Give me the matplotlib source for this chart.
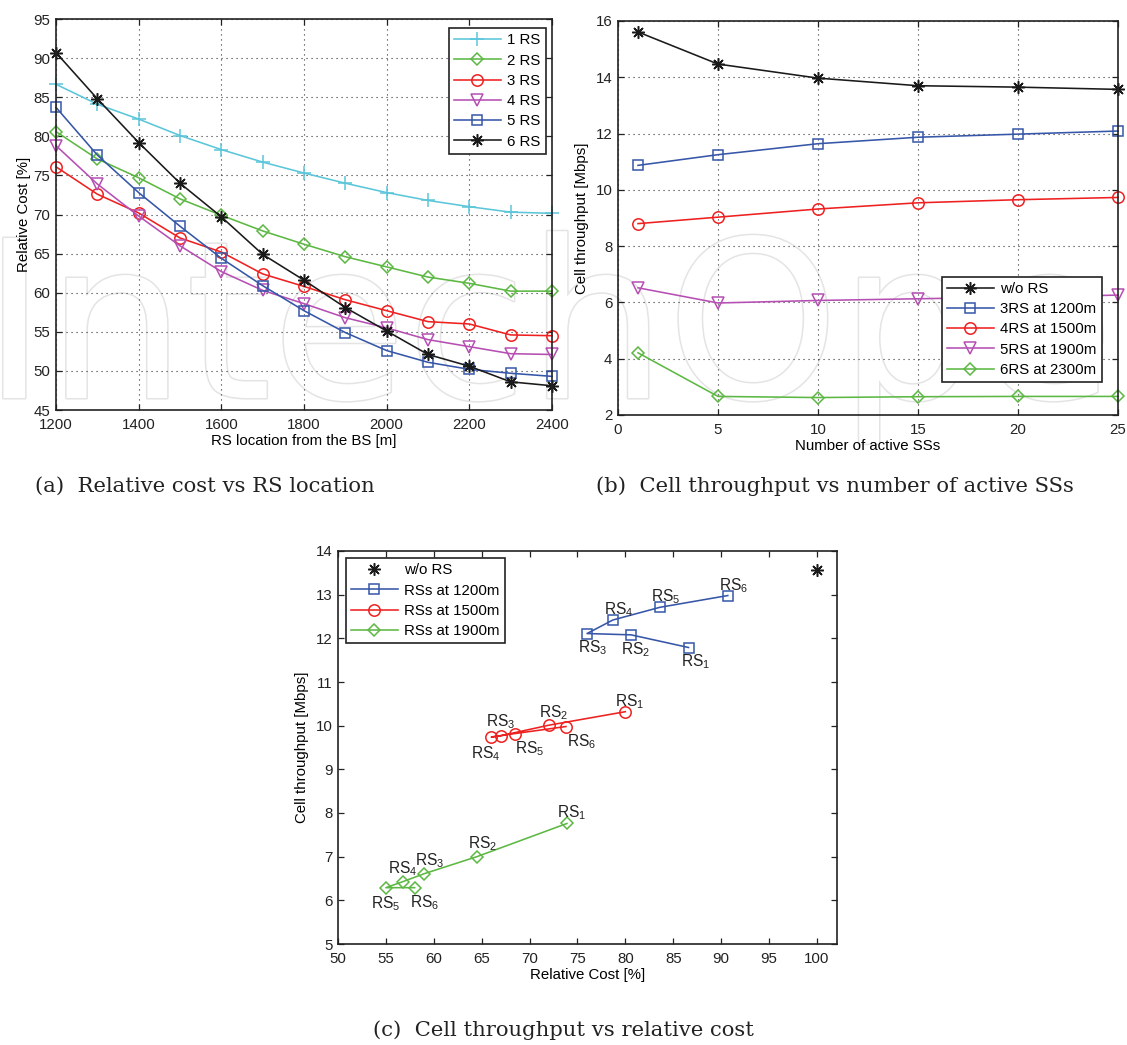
import numpy as np
import matplotlib.pyplot as plt
from matplotlib import patheffects

plt.rcParams['font.family'] = ['Liberation Sans', 'DejaVu Sans']
plt.rcParams['mathtext.fontset'] = 'custom'
plt.rcParams['mathtext.rm'] = 'Liberation Sans'
plt.rcParams['mathtext.it'] = 'Liberation Sans:italic'
plt.rcParams['font.size'] = 10.8

# ---- (a) relative cost vs RS location
rs_loc = [1200, 1300, 1400, 1500, 1600, 1700, 1800, 1900, 2000, 2100, 2200, 2300, 2400]
cost_1rs = [86.65, 84.1, 82.2, 80.1, 78.3, 76.7, 75.3, 74.0, 72.8, 71.8, 71.0, 70.3, 70.15]
cost_2rs = [80.6, 77.1, 74.7, 72.0, 69.9, 67.9, 66.2, 64.6, 63.3, 62.0, 61.2, 60.2, 60.2]
cost_3rs = [76.1, 72.6, 70.2, 67.0, 65.2, 62.4, 60.8, 59.1, 57.7, 56.3, 56.0, 54.6, 54.5]
cost_4rs = [78.8, 73.9, 69.8, 66.0, 62.7, 60.3, 58.6, 56.8, 55.5, 54.0, 53.1, 52.2, 52.1]
cost_5rs = [83.7, 77.6, 72.8, 68.5, 64.4, 60.9, 57.7, 54.9, 52.6, 51.1, 50.2, 49.7, 49.3]
cost_6rs = [90.7, 84.8, 79.2, 74.0, 69.7, 64.9, 61.6, 58.1, 55.1, 52.1, 50.6, 48.6, 48.1]
labels_a = ['1 RS', '2 RS', '3 RS', '4 RS', '5 RS', '6 RS']

# ---- (b) cell throughput vs number of active SSs
n_ss = [1, 5, 10, 15, 20, 25]
thr_wo = [15.61, 14.47, 13.97, 13.70, 13.65, 13.57]
thr_3rs = [10.87, 11.25, 11.64, 11.87, 11.98, 12.09]
thr_4rs = [8.80, 9.03, 9.32, 9.54, 9.65, 9.73]
thr_5rs = [6.52, 5.98, 6.07, 6.13, 6.19, 6.26]
thr_6rs = [4.21, 2.66, 2.62, 2.65, 2.66, 2.66]
labels_b = ['w/o RS', '3RS at 1200m', '4RS at 1500m', '5RS at 1900m', '6RS at 2300m']

# ---- (c) cell throughput vs relative cost
wo_cost, wo_thr = 100, 13.57
cost_1200 = [86.6, 80.6, 76.0, 78.7, 83.6, 90.7]
thr_1200 = [11.79, 12.08, 12.11, 12.42, 12.71, 12.98]
cost_1500 = [80.0, 72.0, 67.0, 66.0, 68.5, 73.8]
thr_1500 = [10.32, 10.01, 9.77, 9.74, 9.82, 9.98]
cost_1900 = [73.9, 64.5, 59.0, 56.8, 55.0, 58.0]
thr_1900 = [7.76, 7.00, 6.61, 6.43, 6.29, 6.29]
rs_names = ['1', '2', '3', '4', '5', '6']
labels_c = ['w/o RS', 'RSs at 1200m', 'RSs at 1500m', 'RSs at 1900m']

CYAN = '#5bc6da'
GREEN = '#5cb843'
RED = '#ee2020'
MAG = '#b64fb3'
BLUE = '#3656a8'
BLK = '#1a1a1a'
ASTER = (8, 2, 0)
FS = 10.8

W, H = 1127, 1045
fig = plt.figure(figsize=(W / 100, H / 100), dpi=100)

# faint publisher watermark, drawn behind the (transparent) axes
fig.text(-0.016, 1 - 398 / H, 'IntechOpen', fontsize=158, family='DejaVu Sans',
         color='white', ha='left', va='baseline', zorder=-5,
         path_effects=[patheffects.withStroke(linewidth=2.2, foreground='#e4e4e4')])


def px_axes(l, t, r, b):
    ax = fig.add_axes([l / W, 1 - b / H, (r - l) / W, (b - t) / H])
    ax.set_facecolor('none')
    for s in ax.spines.values():
        s.set_linewidth(1.2)
        s.set_color('#222222')
    ax.tick_params(direction='in', top=True, right=True, length=4, width=0.9,
                   labelsize=FS, pad=4, colors='#222222')
    ax.tick_params(axis='x', pad=5.5)
    return ax


def add_legend(ax, loc, anchor):
    leg = ax.legend(loc=loc, bbox_to_anchor=anchor, fontsize=FS,
                    handlelength=3.1, handletextpad=0.45, labelspacing=0.42, borderpad=0.35,
                    framealpha=1, fancybox=False, borderaxespad=0)
    fr = leg.get_frame()
    fr.set_edgecolor('#222222')
    fr.set_linewidth(1.2)
    fr.set_boxstyle('square', pad=0)
    return leg


def mstyle(c, m, ms):
    return dict(color=c, marker=m, ms=ms, mfc='none', mec=c, mew=1.1, lw=1.15)


grid_kw = dict(color='#333333', linewidth=0.8, linestyle=(0, (1, 3.5)))

# ---------------- (a)
ax = px_axes(56, 19, 552, 410)
series_a = [(cost_1rs, CYAN, '+', 10), (cost_2rs, GREEN, 'D', 6.3), (cost_3rs, RED, 'o', 8.2),
            (cost_4rs, MAG, 'v', 8.2), (cost_5rs, BLUE, 's', 6.6), (cost_6rs, BLK, ASTER, 9)]
for (vals, c, m, ms), lab in zip(series_a, labels_a):
    ax.plot(rs_loc, vals, label=lab, clip_on=False, **mstyle(c, m, ms))
ax.set_xlim(1200, 2400)
ax.set_ylim(45, 95)
ax.set_xticks(range(1200, 2401, 200))
ax.set_yticks(range(45, 96, 5))
ax.grid(True, **grid_kw)
ax.set_xlabel('RS location from the BS [m]', fontsize=FS, labelpad=2)
ax.set_ylabel('Relative Cost [%]', fontsize=FS, labelpad=2)
add_legend(ax, 'upper right', (0.988, 0.977))

# ---------------- (b)
ax = px_axes(618, 21, 1118, 415)
series_b = [(thr_wo, BLK, ASTER, 9), (thr_3rs, BLUE, 's', 6.6), (thr_4rs, RED, 'o', 8.2),
            (thr_5rs, MAG, 'v', 8.2), (thr_6rs, GREEN, 'D', 6.3)]
for (vals, c, m, ms), lab in zip(series_b, labels_b):
    ax.plot(n_ss, vals, label=lab, clip_on=False, **mstyle(c, m, ms))
ax.set_xlim(0, 25)
ax.set_ylim(2, 16)
ax.set_xticks(range(0, 26, 5))
ax.set_yticks(range(2, 17, 2))
ax.grid(True, **grid_kw)
ax.set_xlabel('Number of active SSs', fontsize=FS, labelpad=2)
ax.set_ylabel('Cell throughput [Mbps]', fontsize=FS, labelpad=5)
add_legend(ax, 'lower right', (0.968, 0.083))

# ---------------- (c)
ax = px_axes(338, 551, 837, 944)
ax.plot([wo_cost], [wo_thr], linestyle='none', color=BLK, marker=ASTER, ms=9, mew=1.1,
        label=labels_c[0])
series_c = [(cost_1200, thr_1200, BLUE, 's', 6.6), (cost_1500, thr_1500, RED, 'o', 8.2),
            (cost_1900, thr_1900, GREEN, 'D', 6.3)]
for (xs, ys, c, m, ms), lab in zip(series_c, labels_c[1:]):
    ax.plot(xs, ys, label=lab, **mstyle(c, m, ms))

# label offsets in pixels (dx, dy of the "RS" baseline relative to the marker)
offs = [
    [(-8, -19), (-10, -19), (-9, -19), (-9, 6), (-9, 6), (-9, 5)],
    [(-10, 5), (-10, 8), (-15, 9), (-20, -21), (0, -20), (1, -20)],
    [(-10, 6), (-9, 8), (-9, 8), (-15, 8), (-15, -21), (-5, -20)],
]
for (xs, ys, c, m, ms), oset in zip(series_c, offs):
    for x, y, nm, (dx, dy) in zip(xs, ys, rs_names, oset):
        ax.annotate('RS$_{' + nm + '}$', (x, y), xytext=(dx, dy), textcoords='offset pixels',
                    ha='left', va='baseline', fontsize=11.2, color='#222222')
ax.set_xlim(50, 102.1)
ax.set_ylim(5, 14)
ax.set_xticks(range(50, 101, 5))
ax.set_yticks(range(5, 15))
ax.set_xlabel('Relative Cost [%]', fontsize=FS, labelpad=2)
ax.set_ylabel('Cell throughput [Mbps]', fontsize=FS, labelpad=5)
add_legend(ax, 'upper left', (0.016, 0.982))

# captions
cap_kw = dict(fontsize=15.2, family='DejaVu Serif', color='#222222', ha='center', va='center')
fig.text(205 / W, 1 - 486 / H, '(a)  Relative cost vs RS location', **cap_kw)
fig.text(835 / W, 1 - 486 / H, '(b)  Cell throughput vs number of active SSs', **cap_kw)
fig.text(563 / W, 1 - 1030 / H, '(c)  Cell throughput vs relative cost', **cap_kw)

fig.savefig('out.png', dpi=100, facecolor='white')
